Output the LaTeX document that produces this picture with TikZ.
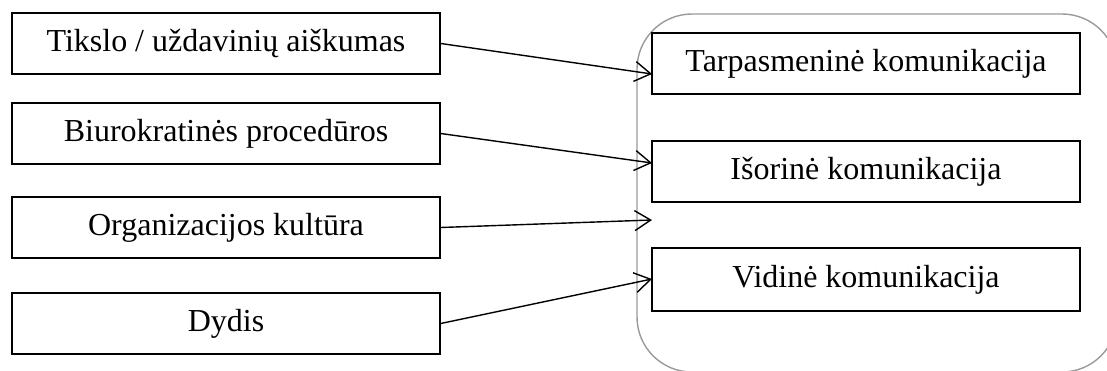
\documentclass[tikz,border=0pt]{standalone}
\usepackage{fontspec}
\setmainfont{Liberation Serif}
\usetikzlibrary{arrows.meta}
\begin{document}
\begin{tikzpicture}[x=1pt,y=-1pt,
  box/.style={draw=black,line width=1.5pt,minimum width=428pt,minimum height=61pt,inner sep=0pt,font=\fontsize{32}{38}\selectfont,text=black},
  conn/.style={draw=black,line width=1.4pt,-{Straight Barb[length=16pt,width=20pt,line width=1.4pt]}},
  grp/.style={draw=black!40,line width=1.4pt,rounded corners=55pt,minimum width=480pt,minimum height=358pt,inner sep=0pt}]
\useasboundingbox (0,0) rectangle (1107,371);
\clip (0,0) rectangle (1107,371);
\node[grp] (g) at (877,193) {};
\node[box] (l1) at (226,43.5) {Tikslo / uždavinių aiškumas};
\node[box] (l2) at (226,133.5) {Biurokratinės procedūros};
\node[box] (l3) at (226,227.5) {Organizacijos kultūra};
\node[box] (l4) at (226,323.5) {Dydis};
\node[box] (r1) at (866,63.5) {Tarpasmeninė komunikacija};
\node[box] (r2) at (866,171.5) {Išorinė komunikacija};
\node[box,minimum height=63pt] (r3) at (866,279.5) {Vidinė komunikacija};
\coordinate (t1) at (652,74);
\coordinate (t2) at (652,163);
\coordinate (t3) at (652,220);
\coordinate (t4) at (652,279);
\draw[conn] (l1.east) -- (t1);
\draw[conn] (l2.east) -- (t2);
\draw[conn] (l3.east) -- (t3);
\draw[conn] (l4.east) -- (t4);
\end{tikzpicture}
\end{document}
